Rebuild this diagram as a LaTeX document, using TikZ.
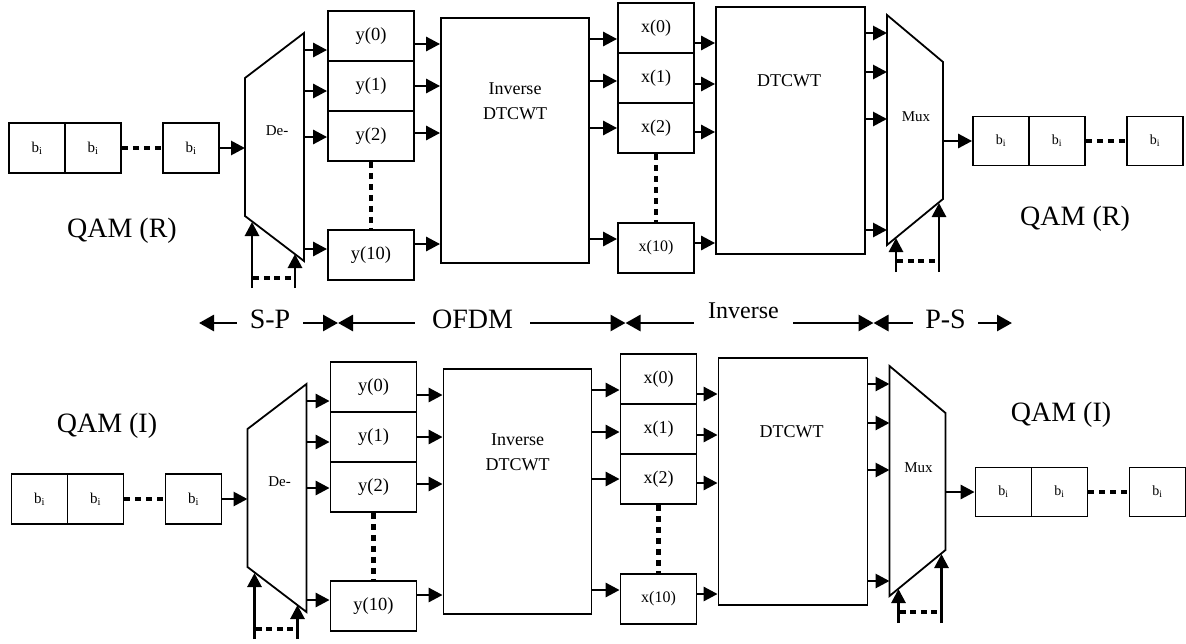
\documentclass[tikz,border=0pt]{standalone}
\usepackage{fontspec}
\setmainfont{Liberation Serif}
\usetikzlibrary{arrows.meta, positioning, calc}

\newcommand{\fsz}[1]{\fontsize{#1}{#1}\selectfont}
\newcommand{\bsub}{b\textsubscript{i}}

\tikzset{
  box/.style={draw, line width=1.8pt, inner sep=0pt},
  bitbox/.style={box, minimum width=56pt, minimum height=50pt, font=\fsz{15}},
  ybox/.style={box, minimum width=86pt, minimum height=50pt, font=\fsz{18.5}},
  xbox/.style={box, minimum width=76pt, minimum height=50pt, font=\fsz{18}},
  arr/.style={-{Triangle[length=14pt,width=14pt]}, line width=2.8pt},
  bigarr/.style={-{Triangle[length=15pt,width=16pt]}, line width=2.8pt},
  dots/.style={line width=4.5pt, dash pattern=on 6pt off 5pt},
  cdots/.style={line width=4pt, dash pattern=on 6pt off 4.5pt},
  lbl/.style={font=\fsz{28}, inner sep=0pt},
}

\begin{document}
\begin{tikzpicture}[x=1pt, y=-1pt]
\useasboundingbox (0,0) rectangle (1186,643);

% one chain for each of R and I
\foreach \r/\dx/\dy in {R/0/0, I/2.5/351}{
\begin{scope}[shift={(\dx,\dy)}]
  % serial input
  \node[bitbox] (a1\r) at (37,148) {\bsub};
  \node[bitbox] (a2\r) at (93,148) {\bsub};
  \node[bitbox] (a3\r) at (191,148) {\bsub};
  \draw[dots] (a2\r.east) -- (a3\r.west);
  % de-mux
  \coordinate (dm1\r) at (245,78);
  \coordinate (dm2\r) at (304,33);
  \coordinate (dm3\r) at (304,261);
  \coordinate (dm4\r) at (245,216);
  \draw[box] (dm1\r) -- (dm2\r) -- (dm3\r) -- (dm4\r) -- cycle;
  \node[font=\fsz{15}] (dm\r) at (277,131) {De-};
  \draw[arr] (a3\r.east) -- (a3\r.east -| dm1\r);
  \coordinate (ds1\r) at (252,288);
  \coordinate (ds2\r) at (295,288);
  \coordinate (dp1\r) at (252,222);
  \coordinate (dp2\r) at (295,254);
  \draw[arr] (ds1\r) -- (dp1\r);
  \draw[arr] (ds2\r) -- (dp2\r);
  \draw[cdots] ($(ds1\r)+(1.4,-10)$) -- ($(ds2\r)+(-1.4,-10)$);
  % y(k)
  \node[ybox] (y0\r) at (371,36) {y(0)};
  \node[ybox] (y1\r) at (371,86) {y(1)};
  \node[ybox] (y2\r) at (371,136) {y(2)};
  \node[ybox] (y10\r) at (371,255) {y(10)};
  \draw[dots] (y2\r.south) -- (y10\r.north);
  \foreach \n/\yy in {0/50,1/91,2/137,10/249}
    \draw[arr] (dm2\r |- 0,\yy) -- (y\n\r.west |- 0,\yy);
  % inverse DTCWT
  \node[box, minimum width=148pt, minimum height=245pt] (idt\r) at (515,140.5) {};
  \node[font=\fontsize{18}{25}\selectfont, align=center, inner sep=0pt] (idtl\r) at (515,101.5) {Inverse\\DTCWT};
  \foreach \n/\yy in {0/44,1/86,2/133,10/244}
    \draw[arr] (y\n\r.east |- 0,\yy) -- (idt\r.west |- 0,\yy);
  % x(k)
  \node[xbox] (x0\r) at (656,28) {x(0)};
  \node[xbox] (x1\r) at (656,78) {x(1)};
  \node[xbox] (x2\r) at (656,128) {x(2)};
  \node[xbox, font=\fsz{16}] (x10\r) at (656,248) {x(10)};
  \draw[dots] (x2\r.south) -- (x10\r.north);
  \foreach \n/\yy in {0/39,1/81,2/128,10/239}
    \draw[arr] (idt\r.east |- 0,\yy) -- (x\n\r.west |- 0,\yy);
  % DTCWT
  \node[box, minimum width=149pt, minimum height=247pt] (dt\r) at (790.5,130.5) {};
  \node[font=\fsz{18}, inner sep=0pt] (dtl\r) at (789,81) {DTCWT};
  \foreach \n/\yy in {0/43,1/84,2/132,10/243}
    \draw[arr] (x\n\r.east |- 0,\yy) -- (dt\r.west |- 0,\yy);
  % mux
  \coordinate (mx1\r) at (887,15);
  \coordinate (mx2\r) at (943,62);
  \coordinate (mx3\r) at (943,199);
  \coordinate (mx4\r) at (887,245);
  \draw[box] (mx1\r) -- (mx2\r) -- (mx3\r) -- (mx4\r) -- cycle;
  \node[font=\fsz{15}] (mx\r) at (916,117) {Mux};
  \foreach \yy in {33,72,119,230}
    \draw[arr] (dt\r.east |- 0,\yy) -- (mx1\r |- 0,\yy);
  \coordinate (ms1\r) at (896,272);
  \coordinate (ms2\r) at (939,272);
  \coordinate (mp1\r) at (896,238);
  \coordinate (mp2\r) at (939,203);
  \draw[arr] (ms1\r) -- (mp1\r);
  \draw[arr] (ms2\r) -- (mp2\r);
  \draw[cdots] ($(ms1\r)+(1.4,-11)$) -- ($(ms2\r)+(-1.4,-11)$);
  % serial output
  \node[bitbox, font=\fsz{14}, minimum height=49pt] (c1\r) at (1001,141) {\bsub};
  \node[bitbox, font=\fsz{14}, minimum height=49pt] (c2\r) at (1057,141) {\bsub};
  \node[bitbox, font=\fsz{14}, minimum height=49pt] (c3\r) at (1155,141) {\bsub};
  \draw[arr] (mx2\r |- c1\r.west) -- (c1\r.west);
  \draw[dots] (c2\r.east) -- (c3\r.west);
\end{scope}
}

% QAM labels
\node[lbl] (qrl) at (122,231) {QAM (R)};
\node[lbl] (qrr) at (1075,219) {QAM (R)};
\node[lbl] (qil) at (107,426) {QAM (I)};
\node[lbl] (qir) at (1061,415) {QAM (I)};

% stage span arrows
\coordinate (jA) at (199,323);
\coordinate (jB) at (338,323);
\coordinate (jC) at (625.5,323);
\coordinate (jD) at (873.5,323);
\coordinate (jE) at (1012,323);
\node[lbl, inner xsep=13pt] (sp) at (270,319) {S-P};
\node[lbl, inner xsep=17pt] (ofdm) at (472.5,319) {OFDM};
\node[font=\fsz{24}, inner sep=0pt, inner xsep=14pt] (invm) at (743.5,311) {Inverse};
\node[lbl, inner xsep=12.3pt] (ps) at (945.5,319) {P-S};
\draw[bigarr] (sp.west |- jA) -- (jA);
\draw[bigarr] (sp.east |- jB) -- (jB);
\draw[bigarr] (ofdm.west |- jB) -- (jB);
\draw[bigarr] (ofdm.east |- jC) -- (jC);
\draw[bigarr] (invm.west |- jC) -- (jC);
\draw[bigarr] (invm.east |- jD) -- (jD);
\draw[bigarr] (ps.west |- jD) -- (jD);
\draw[bigarr] (ps.east |- jE) -- (jE);
\end{tikzpicture}
\end{document}
